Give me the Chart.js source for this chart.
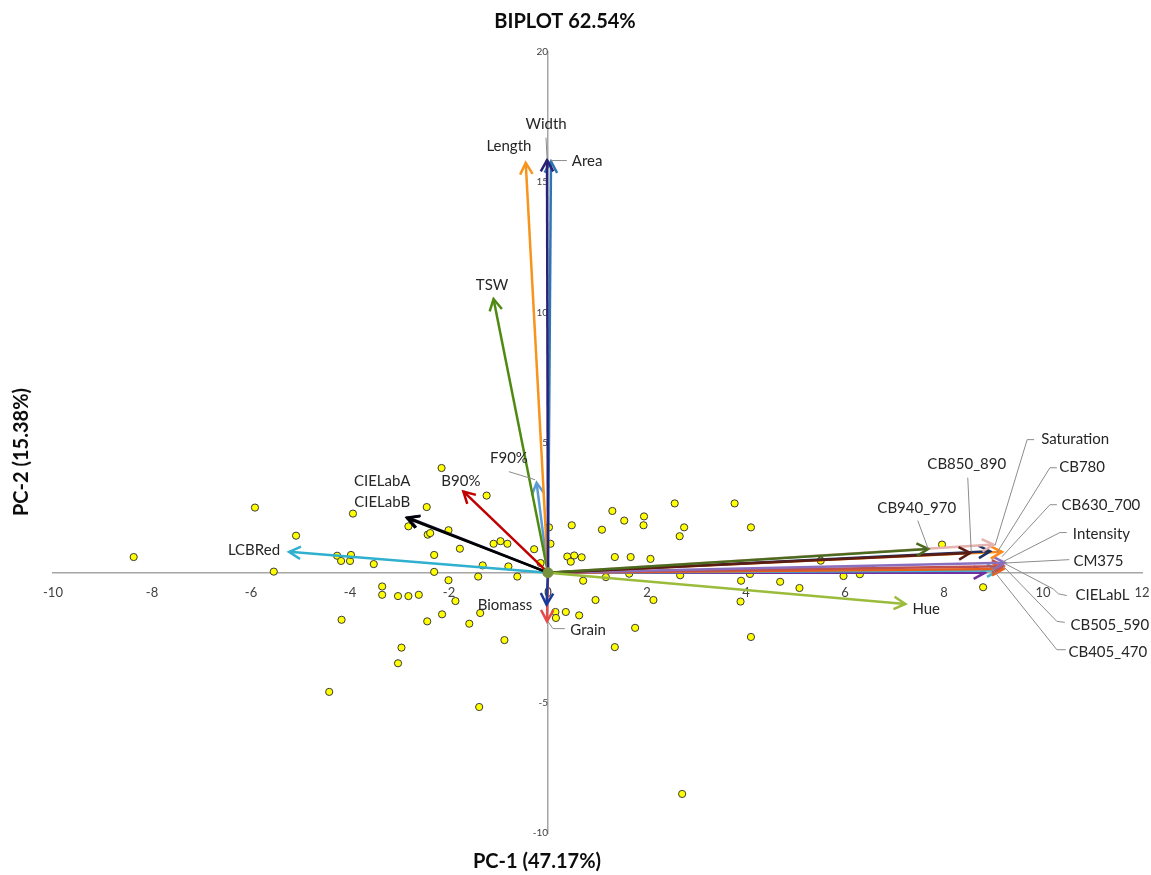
<!DOCTYPE html>
<html>
<head>
<meta charset="utf-8">
<title>Biplot</title>
<script src="https://cdn.jsdelivr.net/npm/chart.js@4/dist/chart.umd.min.js"></script>
<style>
  body { margin: 0; background: #ffffff; }
</style>
</head>
<body>
<canvas id="biplot" width="1151" height="875"></canvas>
<script>
// =====================
// DATA
// =====================
const chartTitle = "BIPLOT 62.54%";
const xTitle = "PC-1 (47.17%)";
const yTitle = "PC-2 (15.38%)";

const xTicks = [-10, -8, -6, -4, -2, 0, 2, 4, 6, 8, 10, 12];
const yTicks = [-10, -5, 0, 5, 10, 15, 20];

// observation scores (yellow dots)
const scoreX = [-8.37, -5.92, -5.09, -5.54, -3.94, -4.26, -4.18, -4.00, -3.98, -3.52,
    -3.35, -3.35, -3.03, -2.82, -2.61, -4.17, -2.96, -3.03, -4.42, -1.39,
    -2.15, -2.45, -1.24, -2.82, -2.43, -2.38, -2.01, -1.78, -1.10, -0.96,
    -0.82, -0.28, -2.30, -1.32, -0.80, -0.15, -2.30, -0.62, -1.41, -2.01,
    -1.87, -2.14, -1.37, -2.44, -1.59, -0.88, 0.15, 0.36, 0.63, 0.16,
    0.71, 0.96, 2.13, 3.89, 3.90, 4.69, 1.76, 1.35, 4.10, 2.71,
    2.56, 3.77, 1.30, 1.94, 1.54, 0.48, 1.09, 1.93, 2.75, 4.10,
    2.66, 0.05, 0.02, 0.39, 0.53, 0.68, 0.46, 1.35, 1.67, 2.07,
    1.17, 1.64, 2.67, 4.08, 5.08, 5.51, 5.97, 6.30, 6.57, 7.96, 8.79];
const scoreY = [0.60, 2.50, 1.42, 0.04, 2.27, 0.65, 0.45, 0.45, 0.68, 0.33,
    -0.53, -0.85, -0.90, -0.90, -0.85, -1.81, -2.88, -3.48, -4.58, -5.16,
    4.02, 2.52, 2.96, 1.78, 1.46, 1.52, 1.63, 0.92, 1.11, 1.21,
    1.11, 0.90, 0.68, 0.28, 0.24, 0.37, 0.03, -0.15, -0.15, -0.29,
    -1.09, -1.60, -1.55, -1.87, -1.96, -2.59, -1.51, -1.51, -1.64, -1.74,
    -0.31, -1.05, -1.05, -1.11, -0.31, -0.35, -2.12, -2.86, -2.47, -8.50,
    2.66, 2.66, 2.37, 2.16, 2.00, 1.82, 1.65, 1.82, 1.74, 1.74,
    1.40, 1.11, 1.74, 0.62, 0.66, 0.59, 0.42, 0.60, 0.60, 0.53,
    -0.17, -0.04, -0.10, -0.05, -0.59, 0.46, -0.13, -0.06, 0.10, 1.08, -0.56];

// variable loadings (arrows)
const varNames = ["Width", "Area", "Length", "TSW", "F90%", "B90%", "CIELabA", "CIELabB",
    "LCBRed", "Biomass", "Grain", "Hue", "CB940_970", "CB850_890", "Saturation", "CB780",
    "CB630_700", "Intensity", "CM375", "CIELabL", "CB505_590", "CB405_470"];
const loadX = [-0.02, 0.06, -0.45, -1.10, -0.23, -1.71, -2.85, -2.83,
    -5.23, -0.03, -0.02, 7.22, 7.68, 8.53, 9.00, 8.93,
    9.17, 9.23, 9.20, 9.20, 9.10, 8.83];
const loadY = [15.85, 15.80, 15.74, 10.51, 3.45, 3.12, 2.10, 2.12,
    0.80, -1.23, -1.87, -1.20, 0.91, 0.76, 1.08, 0.82,
    0.80, 0.38, 0.25, 0.14, 0.08, 0.00];

// =====================
// STYLE
// =====================
const varColors = ["#2a2275", "#2e75b6", "#f7941d", "#4f8a10", "#5b9bd5", "#c00000", "#000000", "#1c1646",
    "#2fb0ce", "#1a3a9a", "#e54b4b", "#9bbb3b", "#4a6b1e", "#5c1c14", "#e5b3b0", "#1f3060",
    "#ff8a1a", "#8b6fbf", "#c0504d", "#e8601c", "#40b4d0", "#7030a0"];

// where each name sits (data units) and its grey leader line
const labelSpots = {
    "Width":      { at: [-0.04, 17.21], leader: [[-0.04, 16.71], [-0.02, 15.94]] },
    "Length":     { at: [-0.79, 16.40] },
    "Area":       { at: [0.79, 15.79], leader: [[0.06, 15.83], [0.38, 15.83]] },
    "TSW":        { at: [-1.13, 11.03] },
    "F90%":       { at: [-0.79, 4.38], leader: [[-0.79, 3.88], [-0.26, 3.57]] },
    "B90%":       { at: [-1.76, 3.53] },
    "CIELabA":    { at: [-3.35, 3.50] },
    "CIELabB":    { at: [-3.35, 2.69] },
    "LCBRed":     { at: [-5.94, 0.88] },
    "Biomass":    { at: [-0.87, -1.23] },
    "Grain":      { at: [0.81, -2.19], leader: [[0.0, -1.88], [0.10, -2.15], [0.34, -2.15]] },
    "Hue":        { at: [7.64, -1.42] },
    "CB940_970":  { at: [7.45, 2.46], leader: [[7.47, 2.00], [7.68, 0.92]] },
    "CB850_890":  { at: [8.46, 4.15], leader: [[8.48, 3.65], [8.55, 0.81]] },
    "Saturation": { at: [10.65, 5.11], leader: [[9.82, 5.11], [9.68, 5.11], [9.03, 1.04]] },
    "CB780":      { at: [10.79, 4.07], leader: [[10.28, 4.03], [10.14, 4.03], [9.07, 0.77]] },
    "CB630_700":  { at: [11.17, 2.61], leader: [[10.28, 2.61], [10.14, 2.61], [9.17, 0.61]] },
    "Intensity":  { at: [11.18, 1.48], leader: [[10.48, 1.54], [10.34, 1.54], [9.19, 0.42]] },
    "CM375":      { at: [11.12, 0.44], leader: [[10.53, 0.50], [9.23, 0.37]] },
    "CIELabL":    { at: [11.20, -0.88], leader: [[10.48, -0.88], [10.31, -0.81], [10.21, -0.63], [9.23, 0.35]] },
    "CB505_590":  { at: [11.35, -2.00], leader: [[10.44, -1.91], [10.28, -1.87], [9.20, 0.24]] },
    "CB405_470":  { at: [11.31, -3.04], leader: [[10.46, -2.96], [10.28, -2.96], [8.96, 0.18]] }
};

const FONT = "Lato, 'Open Sans', sans-serif";

// =====================
// DATASETS
// =====================
let datasets = varNames.map((name, i) => ({
    label: name,
    data: [{ x: 0, y: 0 }, { x: loadX[i], y: loadY[i] }],
    showLine: true,
    borderColor: varColors[i],
    borderWidth: 2.5,
    pointRadius: 0,
    arrow: true,
    order: 1
}));

datasets.push({
    label: "origin",
    data: [{ x: 0, y: 0 }],
    pointRadius: 5,
    backgroundColor: "#76923c",
    borderColor: "#76923c",
    order: 0
});

datasets.push({
    label: "Scores",
    data: scoreX.map((x, i) => ({ x: x, y: scoreY[i] })),
    pointRadius: 3.6,
    backgroundColor: "#ffff00",
    borderColor: "#3a3a3a",
    borderWidth: 1,
    order: 2
});

// =====================
// PLUGINS
// =====================
const arrowHeads = {
    id: "arrowHeads",
    afterDatasetDraw(chart, args) {
        let ds = chart.data.datasets[args.index];
        if (!ds.arrow) return;
        let a = args.meta.data[0];
        let b = args.meta.data[1];
        let ang = Math.atan2(b.y - a.y, b.x - a.x);
        let len = 13, spread = 0.5;
        let ctx = chart.ctx;
        ctx.save();
        ctx.strokeStyle = ds.borderColor;
        ctx.lineWidth = ds.borderWidth;
        ctx.lineJoin = "miter";
        ctx.beginPath();
        ctx.moveTo(b.x - len * Math.cos(ang - spread), b.y - len * Math.sin(ang - spread));
        ctx.lineTo(b.x, b.y);
        ctx.lineTo(b.x - len * Math.cos(ang + spread), b.y - len * Math.sin(ang + spread));
        ctx.stroke();
        ctx.restore();
    }
};

const textLayer = {
    id: "textLayer",
    afterDraw(chart) {
        let ctx = chart.ctx;
        let sx = chart.scales.x, sy = chart.scales.y;
        ctx.save();

        // leader lines
        ctx.strokeStyle = "#8c8c8c";
        ctx.lineWidth = 1;
        Object.values(labelSpots).forEach(spot => {
            if (!spot.leader) return;
            ctx.beginPath();
            spot.leader.forEach((p, k) => {
                let px = sx.getPixelForValue(p[0]), py = sy.getPixelForValue(p[1]);
                if (k === 0) ctx.moveTo(px, py); else ctx.lineTo(px, py);
            });
            ctx.stroke();
        });

        // variable names
        ctx.fillStyle = "#262626";
        ctx.font = "15px " + FONT;
        ctx.textAlign = "center";
        ctx.textBaseline = "middle";
        varNames.forEach(name => {
            let spot = labelSpots[name];
            ctx.fillText(name, sx.getPixelForValue(spot.at[0]), sy.getPixelForValue(spot.at[1]));
        });

        // titles
        ctx.fillStyle = "#0d0d0d";
        ctx.font = "bold 20px " + FONT;
        ctx.fillText(chartTitle, 565, 22);
        ctx.fillText(xTitle, 537, 862);
        ctx.translate(22, 452);
        ctx.rotate(-Math.PI / 2);
        ctx.fillText(yTitle, 0, 0);

        ctx.restore();
    }
};

// =====================
// CHART
// =====================
let biplot = new Chart(document.getElementById("biplot"), {
    type: "scatter",
    data: { datasets: datasets },
    options: {
        responsive: false,
        animation: false,
        devicePixelRatio: 1,
        layout: { padding: { left: 53, right: 9, top: 52, bottom: 42 } },
        plugins: {
            legend: { display: false },
            tooltip: { enabled: false }
        },
        scales: {
            x: {
                type: "linear",
                min: -10,
                max: 12,
                position: { y: 0 },
                afterBuildTicks: s => { s.ticks = xTicks.map(v => ({ value: v })); },
                // keep the end labels from eating into the plot width
                afterFit: s => { s.paddingLeft = 0; s.paddingRight = 0; },
                ticks: { font: { family: FONT, size: 13 }, color: "#404040", padding: 12, maxRotation: 0, autoSkip: false },
                grid: { drawOnChartArea: false, drawTicks: false },
                border: { color: "#a6a6a6", width: 1.5 }
            },
            y: {
                type: "linear",
                min: -10,
                max: 20,
                position: { x: 0 },
                afterBuildTicks: s => { s.ticks = yTicks.map(v => ({ value: v })); },
                afterFit: s => { s.paddingTop = 0; s.paddingBottom = 0; },
                ticks: { font: { family: FONT, size: 10 }, color: "#404040", padding: 10, autoSkip: false },
                grid: { drawOnChartArea: false, drawTicks: false },
                border: { color: "#a6a6a6", width: 1.5 }
            }
        }
    },
    plugins: [arrowHeads, textLayer]
});
</script>
</body>
</html>
